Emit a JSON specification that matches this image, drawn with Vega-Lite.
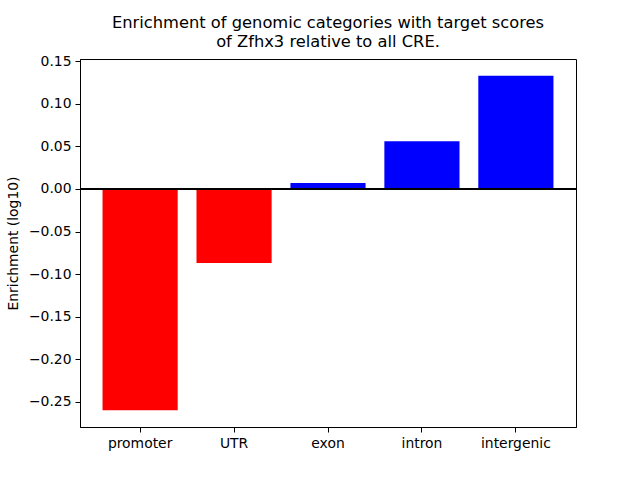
{
  "$schema": "https://vega.github.io/schema/vega-lite/v6.json",
  "width": 496,
  "height": 368,
  "autosize": {"type": "none"},
  "padding": {"left": 80, "top": 59, "right": 64, "bottom": 53},
  "background": "white",
  "title": {
    "text": ["Enrichment of genomic categories with target scores", "of Zfhx3 relative to all CRE."],
    "font": "DejaVu Sans",
    "fontSize": 16.3,
    "fontWeight": "normal",
    "color": "black",
    "offset": 4,
    "lineHeight": 18.5
  },
  "data": {
    "values": [
      {"category": "promoter", "value": -0.26},
      {"category": "UTR", "value": -0.087},
      {"category": "exon", "value": 0.007},
      {"category": "intron", "value": 0.056},
      {"category": "intergenic", "value": 0.133}
    ]
  },
  "layer": [
    {
      "mark": {"type": "bar"},
      "encoding": {
        "x": {
          "field": "category",
          "type": "nominal",
          "sort": null,
          "scale": {"paddingInner": 0.2, "paddingOuter": 0.24},
          "axis": {"title": null, "labelAngle": 0}
        },
        "y": {
          "field": "value",
          "type": "quantitative",
          "scale": {"domain": [-0.2797, 0.1527], "nice": false, "zero": false},
          "axis": {
            "title": "Enrichment (log10)",
            "values": [-0.25, -0.2, -0.15, -0.1, -0.05, 0, 0.05, 0.1, 0.15],
            "format": ".2f"
          }
        },
        "color": {
          "condition": {"test": "datum.value < 0", "value": "#ff0000"},
          "value": "#0000ff"
        }
      }
    },
    {
      "mark": {"type": "rule", "color": "black", "strokeWidth": 1.5},
      "encoding": {"y": {"datum": 0}}
    }
  ],
  "config": {
    "view": {"stroke": "black", "strokeWidth": 1},
    "axis": {
      "grid": false,
      "domainColor": "black",
      "tickColor": "black",
      "tickSize": 5,
      "labelFont": "DejaVu Sans",
      "labelFontSize": 13.9,
      "labelColor": "black",
      "labelPadding": 4,
      "titleFont": "DejaVu Sans",
      "titleFontSize": 13.9,
      "titleFontWeight": "normal",
      "titleColor": "black",
      "titlePadding": 8
    }
  }
}
